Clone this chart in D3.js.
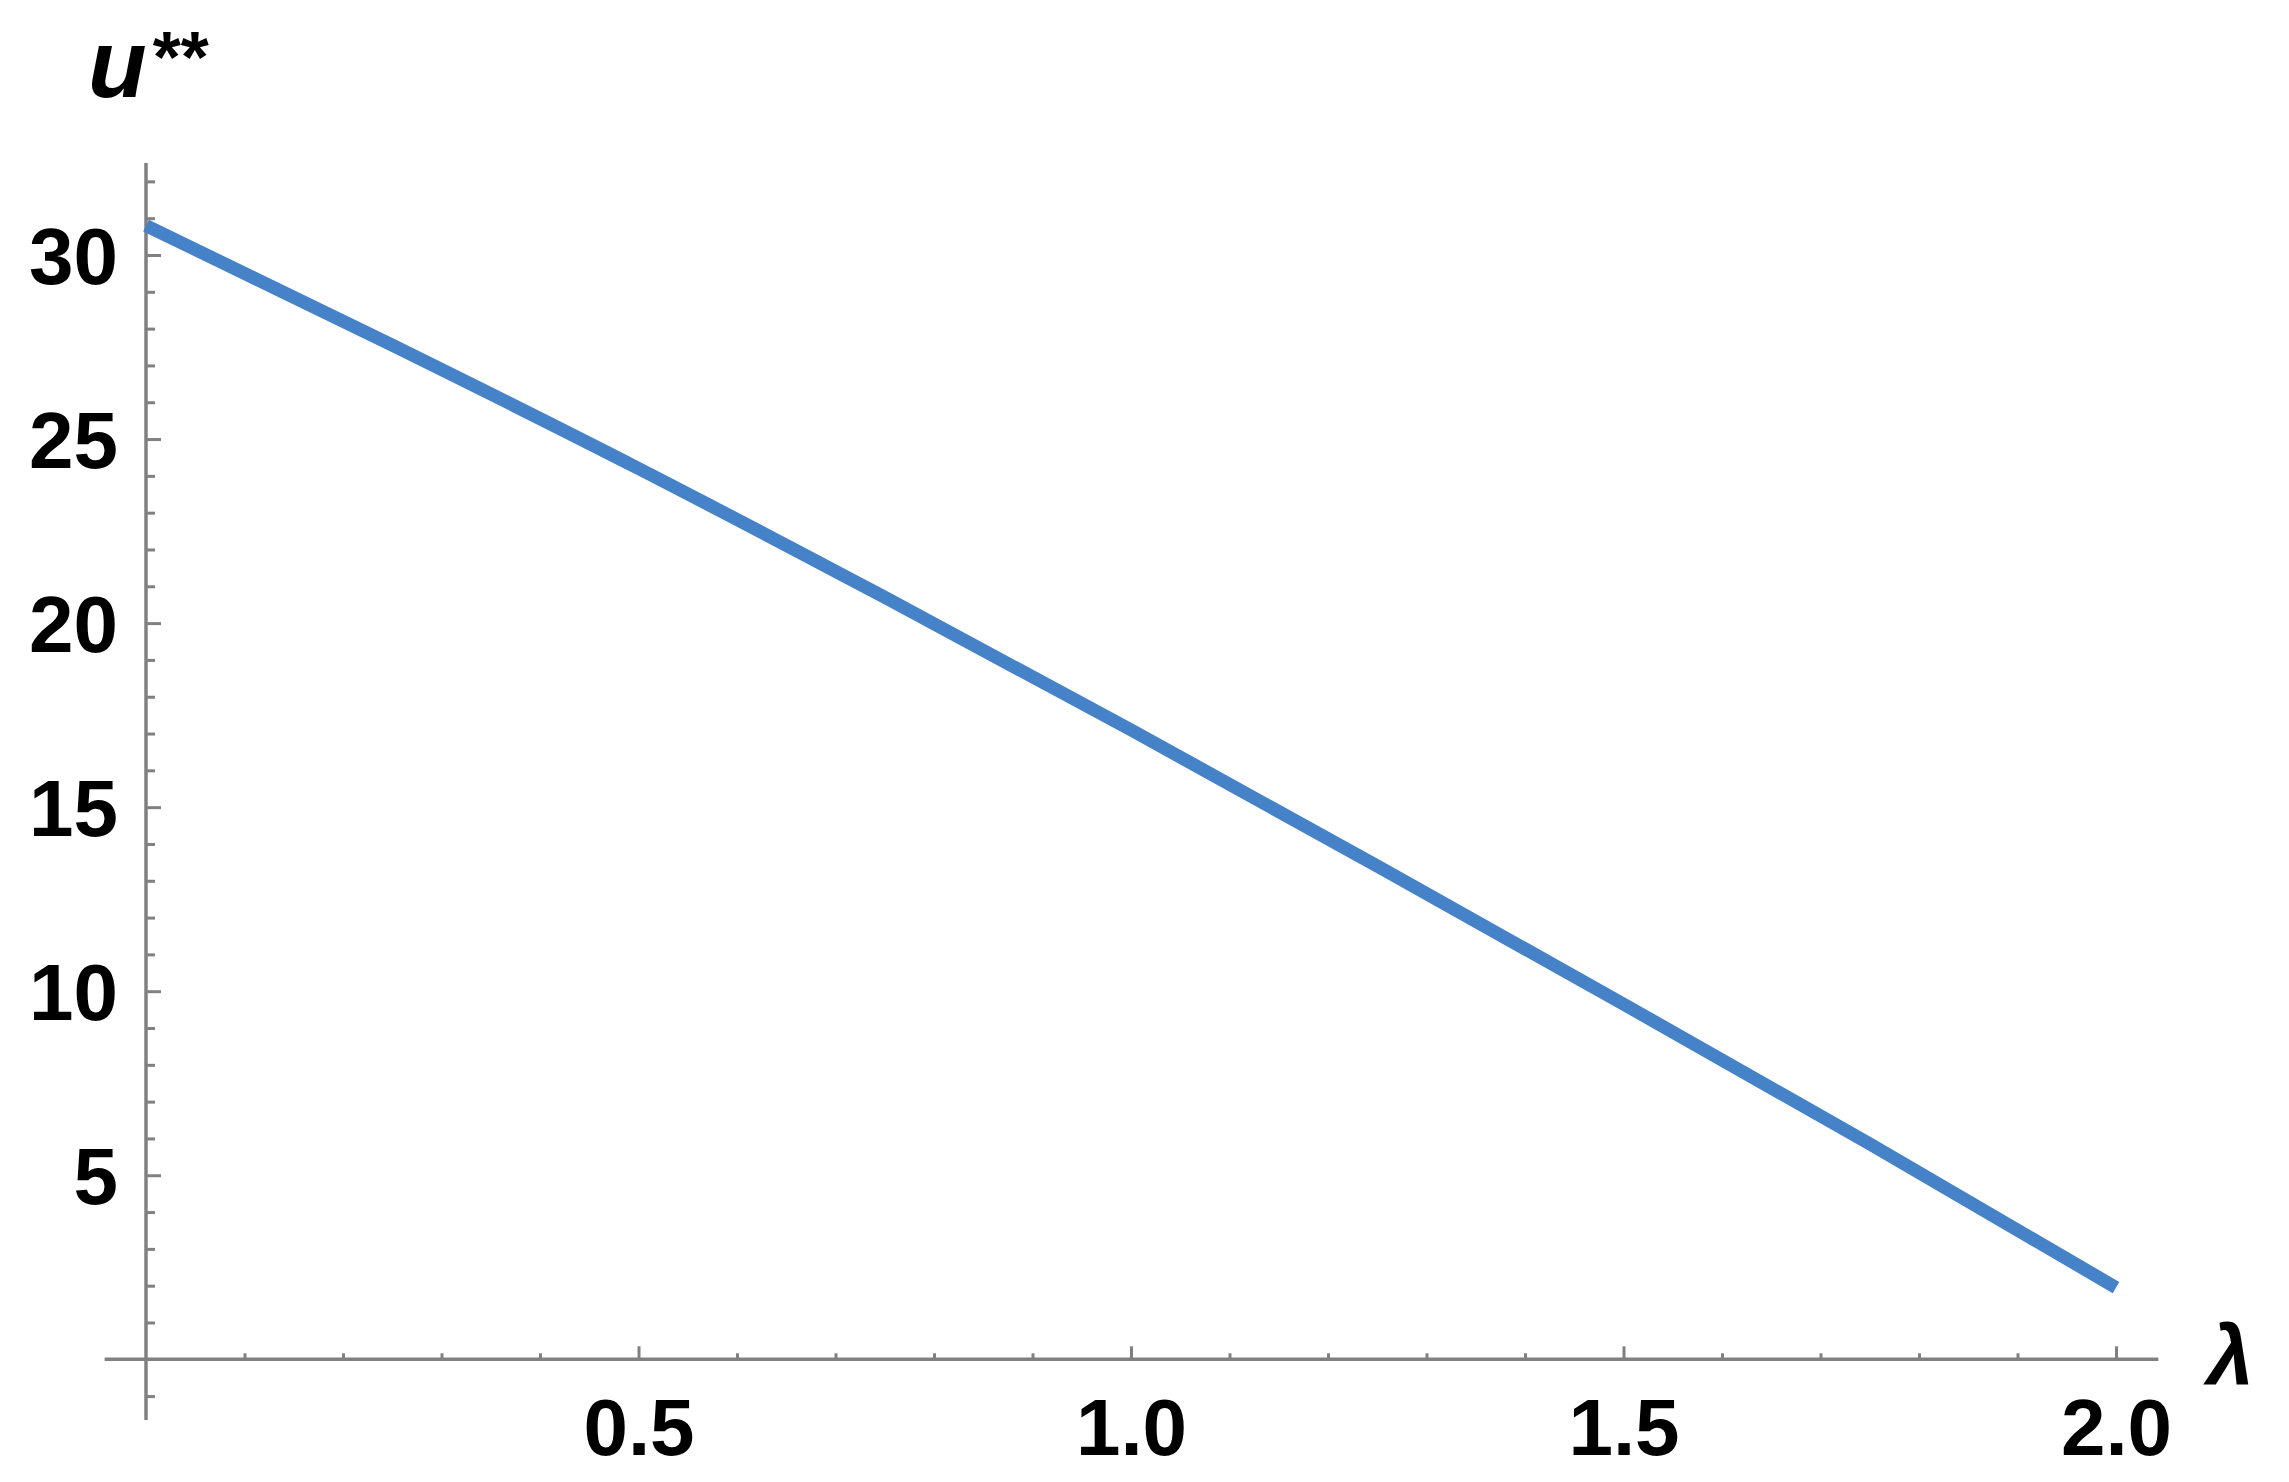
<!DOCTYPE html>
<html>
<head>
<meta charset="utf-8">
<script src="https://cdn.jsdelivr.net/npm/d3@7"></script>
<style>
	html, body { margin: 0; padding: 0; background: #fff; }
	text { font-family: "Liberation Sans", Arial, sans-serif; font-weight: bold; fill: #000; }
</style>
</head>
<body>
<div id="chart-area"></div>
<script>
// values
const lambdaValues = [0, 0.25, 0.5, 0.75, 1.0, 1.25, 1.5, 1.75, 2.0]
const uValues = [30.8, 27.55, 24.2, 20.7, 17.1, 13.4, 9.65, 5.85, 1.95]
const xMajorTicks = [0.5, 1.0, 1.5, 2.0]
const yMajorTicks = [5, 10, 15, 20, 25, 30]

const CANVAS_WIDTH = 2289
const CANVAS_HEIGHT = 1482

const $svg = d3.select('#chart-area')
	.append('svg')
	.attr('width', CANVAS_WIDTH)
	.attr('height', CANVAS_HEIGHT)

/* Scales */
const xScale = d3.scaleLinear()
	.domain([0, 2])
	.range([146, 2116])

const yScale = d3.scaleLinear()
	.domain([0, 30])
	.range([1359.3, 255])

const axisColor = '#808080'
const xExtent = [-0.042, 2.043]
const yExtent = [-1.65, 32.5]

// minor ticks every 0.1 / every 1
const xMinor = d3.range(1, 21).map(i => i / 10).filter(v => !xMajorTicks.some(m => Math.abs(m - v) < 1e-9))
const yMinor = d3.range(-1, 33).filter(v => v !== 0 && !yMajorTicks.includes(v))

/* Axis lines */
$svg.append('line')
	.attr('x1', xScale(xExtent[0])).attr('x2', xScale(xExtent[1]))
	.attr('y1', yScale(0)).attr('y2', yScale(0))
	.attr('stroke', axisColor).attr('stroke-width', 3.5)

$svg.append('line')
	.attr('x1', xScale(0)).attr('x2', xScale(0))
	.attr('y1', yScale(yExtent[0])).attr('y2', yScale(yExtent[1]))
	.attr('stroke', axisColor).attr('stroke-width', 3.5)

/* X axis */
const $xMinor = $svg.append('g')
	.attr('transform', `translate(0, ${yScale(0)})`)
	.call(d3.axisBottom(xScale).tickValues(xMinor).tickSizeInner(-6).tickSizeOuter(0).tickFormat(''))
$xMinor.select('.domain').remove()

const $xMajor = $svg.append('g')
	.attr('transform', `translate(0, ${yScale(0)})`)
	.call(d3.axisBottom(xScale).tickValues(xMajorTicks).tickSizeInner(-13).tickSizeOuter(0).tickFormat(d3.format('.1f')))
$xMajor.select('.domain').remove()
$xMajor.selectAll('text')
	.attr('y', 96)
	.attr('dy', 0)
	.attr('font-size', 80)

/* Y axis */
const $yMinor = $svg.append('g')
	.attr('transform', `translate(${xScale(0)}, 0)`)
	.call(d3.axisLeft(yScale).tickValues(yMinor).tickSizeInner(-9).tickSizeOuter(0).tickFormat(''))
$yMinor.select('.domain').remove()

const $yMajor = $svg.append('g')
	.attr('transform', `translate(${xScale(0)}, 0)`)
	.call(d3.axisLeft(yScale).tickValues(yMajorTicks).tickSizeInner(-15).tickSizeOuter(0))
$yMajor.select('.domain').remove()
$yMajor.selectAll('text')
	.attr('x', -28)
	.attr('dy', '0.35em')
	.attr('font-size', 80)

$svg.selectAll('.tick line')
	.attr('stroke', axisColor)
	.attr('stroke-width', 3)
$svg.selectAll('.tick text')
	.attr('font-family', '"Liberation Sans", Arial, sans-serif')
	.attr('font-weight', 'bold')
	.attr('fill', '#000')

/* Curve */
const points = lambdaValues.map((l, i) => ({ l, u: uValues[i] }))
const line = d3.line()
	.x(d => xScale(d.l))
	.y(d => yScale(d.u))
	.curve(d3.curveMonotoneX)

$svg.append('path')
	.datum(points)
	.attr('d', line)
	.attr('fill', 'none')
	.attr('stroke', '#4682c8')
	.attr('stroke-width', 13)

/* Axis labels */
const $uLabel = $svg.append('text')
	.attr('x', 88)
	.attr('y', 97)
	.attr('font-size', 96)
	.attr('font-style', 'italic')
	.text('u')
$uLabel.append('tspan')
	.attr('font-size', 72)
	.attr('font-style', 'normal')
	.attr('dx', 6)
	.attr('dy', -15)
	.text('**')

$svg.append('text')
	.attr('x', 2207)
	.attr('y', 1384)
	.attr('font-size', 84)
	.attr('font-style', 'italic')
	.text('λ')
</script>
</body>
</html>
